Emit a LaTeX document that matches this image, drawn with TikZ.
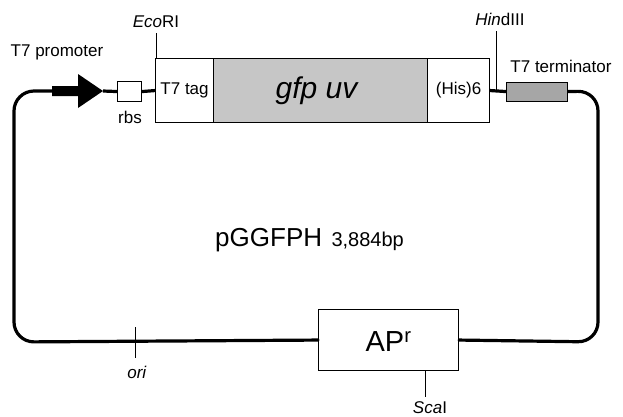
\documentclass[tikz,border=0pt]{standalone}
\usepackage{fontspec}
\setmainfont{Liberation Sans}
\begin{document}
\begin{tikzpicture}[x=1pt,y=-1pt,
  loop/.style={line width=3.2pt,line cap=round},
  box/.style={draw=black,line width=1.1pt,fill=white,inner sep=0pt,anchor=north west},
  tick/.style={draw=black,line width=0.9pt},
  lab/.style={inner sep=0pt,font=\fontsize{17}{19}\selectfont},
  ]
\useasboundingbox (0,0) rectangle (623,416);
% feature boxes
\node[box,minimum width=24pt,minimum height=20pt] (rbs) at (117,81) {};
\node[box,minimum width=58pt,minimum height=64pt] (tag) at (155,58) {};
\node[box,fill=gray!45,minimum width=214pt,minimum height=64pt] (gfp) at (213,58) {};
\node[box,minimum width=62pt,minimum height=64pt] (his) at (427,58) {};
\node[box,fill=gray!70,minimum width=61pt,minimum height=19pt] (term) at (506,81.5) {};
\node[box,minimum width=140pt,minimum height=61pt] (ap) at (318,309) {};
% texts in boxes
\node[lab] at (tag.center) {T7 tag};
\node[lab] at (his.center) {(His)6};
\node[inner sep=0pt,font=\fontsize{30}{32}\selectfont\itshape] at ([xshift=-4pt]gfp.center) {gfp uv};
\node[inner sep=0pt,font=\fontsize{29}{32}\selectfont] at ([yshift=-1pt]ap.center) {AP$^{\mathrm{r}}$};
% promoter arrow
\coordinate (ptail) at (52,91);
\coordinate (ptip) at (103,91);
\fill[black] (ptail) ++(0,-5) -- ++(26,0) -- ++(0,-12) -- (ptip) -- (78,108) -- (78,96) -- (52,96) -- cycle;
% corners
\coordinate (c1) at (14,91);
\coordinate (c2) at (14,342);
\coordinate (c3) at (598,342);
\coordinate (c4) at (598,91);
% backbone
\draw[loop,rounded corners=20pt] (ptail) -- (c1) -- (c2) -- (ap.west);
\draw[loop,rounded corners=20pt] (ap.east) -- (c3) -- (c4) -- (term.east);
\draw[line width=3.2pt] (ptip) -- (rbs.west);
\draw[line width=3.2pt] (rbs.east) -- (tag.west);
\draw[line width=3.2pt] (his.east) -- (term.west);
% redraw boxes over line ends
\node[box,minimum width=24pt,minimum height=20pt] at (117,81) {};
\node[box,fill=gray!70,minimum width=61pt,minimum height=19pt] at (506,81.5) {};
% site ticks
\coordinate (ecotop) at (156,33);
\coordinate (hindtop) at (496,31);
\coordinate (hindbot) at (496,91);
\coordinate (oritop) at (135,327);
\coordinate (oribot) at (135,358);
\coordinate (scabot) at (425,397);
\draw[tick] (ecotop) -- (ecotop |- tag.north);
\draw[tick] (hindtop) -- (hindbot);
\draw[tick] (oritop) -- (oribot);
\draw[tick] (scabot |- ap.south) -- (scabot);
% labels
\node[lab] (tpro) at (57,52) {T7 promoter};
\node[lab] (rbsl) at (130,117) {rbs};
\node[lab,anchor=south] (eco) at (156,28) {\textit{Eco}RI};
\node[lab,anchor=south] (hind) at (500,26) {\textit{Hin}dIII};
\node[lab] (tterm) at (561,66) {T7 terminator};
\node[lab] (ori) at (137,372) {\textit{ori}};
\node[lab] (sca) at (430,408) {\textit{Sca}I};
\node[inner sep=0pt,anchor=base west,font=\fontsize{26}{30}\selectfont] (name) at (215,246) {pGGFPH};
\node[inner sep=0pt,anchor=base west,font=\fontsize{20}{22}\selectfont] (size) at (name.base east) {\hspace{9pt}3,884bp};
\end{tikzpicture}
\end{document}
